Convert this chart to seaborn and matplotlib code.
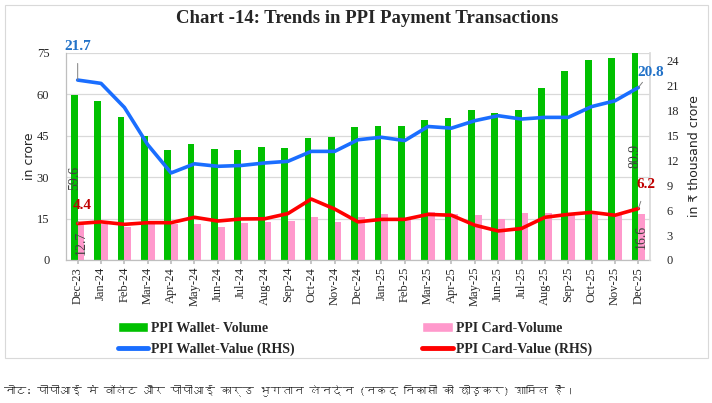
"""
plot.py

Chart -14: Trends in PPI Payment Transactions (bars: volume, lines: value on RHS).
"""

import matplotlib
matplotlib.use("Agg")
import matplotlib.pyplot as plt
from matplotlib import font_manager
from matplotlib.lines import Line2D
from matplotlib.patches import Patch, Rectangle
import numpy as np
import pandas as pd
import seaborn as sns

months = ["Dec-23", "Jan-24", "Feb-24", "Mar-24", "Apr-24", "May-24", "Jun-24",
          "Jul-24", "Aug-24", "Sep-24", "Oct-24", "Nov-24", "Dec-24", "Jan-25",
          "Feb-25", "Mar-25", "Apr-25", "May-25", "Jun-25", "Jul-25", "Aug-25",
          "Sep-25", "Oct-25", "Nov-25", "Dec-25"]

# volumes, in crore (left axis)
wallet_volume = [59.6, 57.5, 51.9, 44.7, 39.9, 41.8, 40.3, 39.9, 40.9, 40.4, 44.0,
                 44.4, 48.1, 48.6, 48.3, 50.5, 51.3, 54.4, 53.2, 54.1, 62.1, 68.5,
                 72.5, 73.2, 80.9]
card_volume = [12.7, 13.2, 12.0, 13.2, 13.2, 12.9, 12.0, 13.5, 13.7, 14.2, 15.6,
               13.8, 15.4, 16.8, 15.0, 17.2, 16.8, 16.2, 15.0, 17.1, 17.1, 16.2,
               16.8, 16.2, 16.6]

# values, in Rs thousand crore (right axis)
wallet_value = [21.7, 21.3, 18.4, 13.9, 10.5, 11.6, 11.3, 11.4, 11.7, 11.9, 13.1,
                13.1, 14.5, 14.8, 14.4, 16.1, 15.9, 16.8, 17.4, 17.0, 17.2, 17.2,
                18.5, 19.2, 20.8]
card_value = [4.4, 4.6, 4.3, 4.5, 4.5, 5.15, 4.7, 4.95, 4.97, 5.6, 7.35, 6.15,
              4.6, 4.9, 4.9, 5.5, 5.4, 4.2, 3.5, 3.8, 5.15, 5.5, 5.75, 5.4, 6.2]

series_names = ["PPI Wallet- Volume", "PPI Card-Volume",
                "PPI Wallet-Value (RHS)", "PPI Card-Value (RHS)"]
colors = {"PPI Wallet- Volume": "#00C000", "PPI Card-Volume": "#FF99CC",
          "PPI Wallet-Value (RHS)": "#1A6EFF", "PPI Card-Value (RHS)": "#FF0000"}

note = "नोट: पीपीआई में वॉलेट और पीपीआई कार्ड भुगतान लेनदेन (नकद निकासी को छोड़कर) शामिल हैं।"


def find_font_for(ch):
    # look through installed fonts for one that has the character
    try:
        from fontTools.ttLib import TTFont
    except ImportError:
        return None
    for f in font_manager.fontManager.ttflist:
        try:
            cmap = TTFont(f.fname, fontNumber=0, lazy=True).getBestCmap()
        except Exception:
            continue
        if cmap and ord(ch) in cmap:
            return f.name
    return None


sns.set_theme(style="white")
plt.rcParams["font.family"] = ["Liberation Serif", "DejaVu Serif"]

fig = plt.figure(figsize=(7.12, 4.03), dpi=100)
ax = fig.add_axes([66 / 712, 1 - 260 / 403, 584 / 712, 207.3 / 403])

vol_df = pd.DataFrame({
    "month": months * 2,
    "volume": wallet_volume + card_volume,
    "series": [series_names[0]] * len(months) + [series_names[1]] * len(months),
})
sns.barplot(data=vol_df, x="month", y="volume", hue="series",
            palette=[colors[series_names[0]], colors[series_names[1]]],
            width=0.58, dodge=True, saturation=1, legend=False,
            linewidth=0, ax=ax)

ax.set_ylim(0, 75)
ax.set_xlim(-0.5, len(months) - 0.5)
ax.set_yticks(np.arange(0, 76, 15))
ax.yaxis.grid(True, color="#D9D9D9", linewidth=0.9)
ax.set_axisbelow(True)
ax.set_xlabel("")
ax.set_ylabel("in crore", family=["DejaVu Sans"], fontsize=9, labelpad=0.5)
ax.tick_params(axis="x", rotation=90, labelsize=9, length=3, color="#BFBFBF",
               bottom=True, pad=2)
ax.tick_params(axis="y", labelsize=9, length=0, pad=12)
for side in ["top", "right"]:
    ax.spines[side].set_visible(False)
for side in ["left", "bottom"]:
    ax.spines[side].set_color("#BFBFBF")
    ax.spines[side].set_linewidth(0.9)

# data labels on first and last bars, centred inside the bar
for cont in ax.containers:
    labels = [""] * len(months)
    vals = cont.datavalues
    labels[0] = f"{vals[0]:.1f}"
    labels[-1] = f"{vals[-1]:.1f}"
    ax.bar_label(cont, labels=labels, label_type="center", rotation=90,
                 fontsize=10, color="#404040")

ax2 = ax.twinx()
x_idx = np.arange(len(months))
val_df = pd.DataFrame({
    "x": np.concatenate([x_idx, x_idx]),
    "value": wallet_value + card_value,
    "series": [series_names[2]] * len(months) + [series_names[3]] * len(months),
})
sns.lineplot(data=val_df, x="x", y="value", hue="series",
             palette=[colors[series_names[2]], colors[series_names[3]]],
             linewidth=2.6, legend=False, ax=ax2)
ax2.set_ylim(0, 25)
ax2.set_yticks(np.arange(0, 25, 3))
ax2.set_ylabel("in ₹ thousand crore", family=["DejaVu Sans"], fontsize=9,
               labelpad=6)
ax2.tick_params(axis="y", labelsize=9, length=0, pad=12)
ax2.grid(False)
for side in ["top", "left", "bottom"]:
    ax2.spines[side].set_visible(False)
ax2.spines["right"].set_color("#D9D9D9")

# end-point labels with leader lines
ends = [
    (0, wallet_value[0], (0, 24), "#2272C8"),
    (0, card_value[0], (3.6, 13.3), "#C00000"),
    (len(months) - 1, wallet_value[-1], (8.6, 10.8), "#2272C8"),
    (len(months) - 1, card_value[-1], (5.8, 17), "#C00000"),
]
for xi, yv, off, col in ends:
    ax2.annotate(f"{yv:.1f}", xy=(xi, yv), xytext=off, textcoords="offset points",
                 ha="center", va="center", fontsize=11, fontweight="bold",
                 color=col,
                 arrowprops=dict(arrowstyle="-", color="#808080", lw=0.7,
                                 shrinkA=5, shrinkB=0))

fig.suptitle("Chart -14: Trends in PPI Payment Transactions", x=367 / 712,
             y=1 - 10 / 403, va="top", fontsize=13.5, fontweight="bold")

handles = [
    Patch(facecolor=colors[series_names[0]]),
    Line2D([0], [0], color=colors[series_names[2]], linewidth=3.5),
    Patch(facecolor=colors[series_names[1]]),
    Line2D([0], [0], color=colors[series_names[3]], linewidth=3.5),
]
labels = [series_names[0], series_names[2], series_names[1], series_names[3]]
fig.legend(handles, labels, ncol=2, loc="upper left",
           bbox_to_anchor=(112 / 712, 1 - 316 / 403), frameon=False,
           prop={"weight": "bold", "size": 10}, handlelength=2.2,
           handletextpad=0.2, columnspacing=9.2, labelspacing=0.55,
           borderaxespad=0)

fig.patches.append(Rectangle((5 / 712, 1 - 358 / 403), 703 / 712, 353 / 403,
                             transform=fig.transFigure, fill=False,
                             edgecolor="#D9D9D9", linewidth=0.8))

deva = find_font_for("न")
note_family = [deva, "DejaVu Sans"] if deva else ["DejaVu Sans"]
fig.text(4 / 712, 1 - 390 / 403, note, family=note_family, style="italic",
         fontsize=8, va="center", ha="left")

fig.savefig("out.png", dpi=100)
